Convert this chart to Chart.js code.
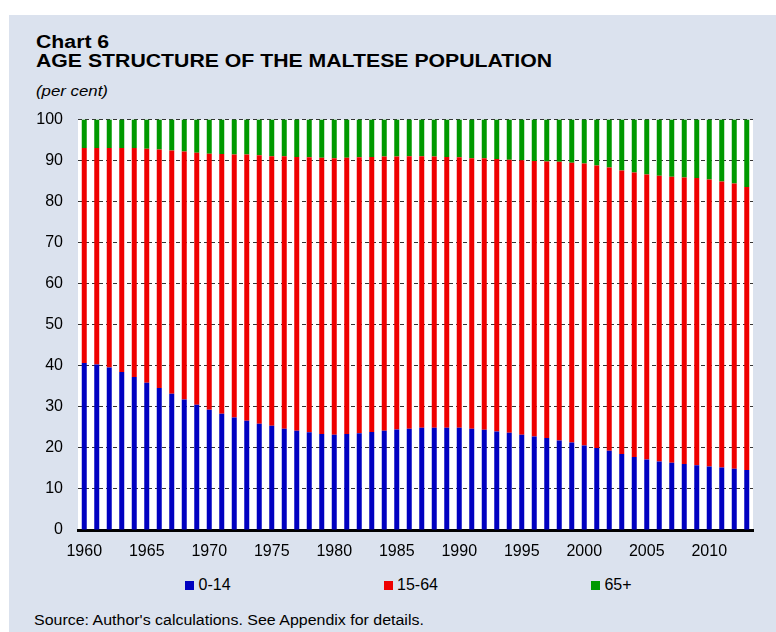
<!DOCTYPE html>
<html>
<head>
<meta charset="utf-8">
<script src="https://cdn.jsdelivr.net/npm/chart.js@4/dist/chart.umd.min.js"></script>
<style>
  body { margin: 0; background: #fff; width: 776px; height: 632px; overflow: hidden; position: relative;
         font-family: 'Liberation Sans', Arial, sans-serif; color: #000; }
  #panel { position: absolute; left: 9px; top: 15px; width: 767px; height: 617px; background: #dbe2ee; }
  .txt { position: absolute; left: 36px; white-space: nowrap; transform-origin: left center; }
  .t1 { font-size: 18px; line-height: 20px; font-weight: bold; transform: scaleX(1.18); }
  #sub { top: 82px; font-size: 15px; line-height: 17px; font-style: italic; transform: scaleX(1.12); }
  #source { left: 34px; top: 612px; font-size: 14px; line-height: 16px; transform: scaleX(1.14); }
  #chartbox { position: absolute; left: 0; top: 95px; width: 776px; height: 475px; }
  #legend { position: absolute; left: 185px; top: 576px; display: flex; gap: 153px; font-size: 16px; line-height: 18px; }
  #legend div { display: flex; align-items: center; }
  #legend span.box { display: inline-block; width: 9px; height: 9px; margin-right: 4.5px; }
</style>
</head>
<body>
<div id="panel"></div>
<div class="txt t1" style="top:32px">Chart 6</div>
<div class="txt t1" style="top:51px">AGE STRUCTURE OF THE MALTESE POPULATION</div>
<div class="txt" id="sub">(per cent)</div>
<div id="chartbox"><canvas id="myChart" width="776" height="475"></canvas></div>
<div id="legend"></div>
<div class="txt" id="source">Source: Author's calculations. See Appendix for details.</div>
<script>
var years = ['1960','1961','1962','1963','1964','1965','1966','1967','1968','1969',
             '1970','1971','1972','1973','1974','1975','1976','1977','1978','1979',
             '1980','1981','1982','1983','1984','1985','1986','1987','1988','1989',
             '1990','1991','1992','1993','1994','1995','1996','1997','1998','1999',
             '2000','2001','2002','2003','2004','2005','2006','2007','2008','2009',
             '2010','2011','2012','2013'];

// 0-14
var young = [40.7, 40.3, 39.6, 38.5, 37.3, 35.9, 34.6, 33.2, 31.8, 30.5,
             29.3, 28.3, 27.4, 26.6, 25.9, 25.4, 24.7, 24.2, 23.8, 23.4,
             23.2, 23.4, 23.6, 23.9, 24.2, 24.5, 24.7, 24.9, 24.9, 24.9,
             24.9, 24.7, 24.4, 24.0, 23.7, 23.2, 22.8, 22.4, 21.8, 21.3,
             20.6, 20.0, 19.3, 18.5, 17.8, 17.2, 16.7, 16.4, 16.1, 15.8,
             15.5, 15.2, 14.9, 14.6];
// 15-64
var working = [52.4, 52.8, 53.5, 54.6, 55.8, 57.0, 58.1, 59.3, 60.4, 61.4,
               62.4, 63.3, 64.1, 64.9, 65.4, 65.7, 66.4, 66.7, 67.0, 67.3,
               67.4, 67.3, 67.2, 67.0, 66.8, 66.5, 66.4, 66.2, 66.1, 66.0,
               65.9, 65.9, 66.2, 66.4, 66.5, 66.9, 67.1, 67.4, 67.9, 68.2,
               68.7, 68.8, 69.0, 69.1, 69.3, 69.4, 69.6, 69.7, 69.8, 70.0,
               69.9, 69.7, 69.5, 69.0];
// 65+
var old = [6.9, 6.9, 6.9, 6.9, 6.9, 7.1, 7.3, 7.5, 7.8, 8.1,
           8.3, 8.4, 8.5, 8.5, 8.7, 8.9, 8.9, 9.1, 9.2, 9.3,
           9.4, 9.3, 9.2, 9.1, 9.0, 9.0, 8.9, 8.9, 9.0, 9.1,
           9.2, 9.4, 9.4, 9.6, 9.8, 9.9, 10.1, 10.2, 10.3, 10.5,
           10.7, 11.2, 11.7, 12.4, 12.9, 13.4, 13.7, 13.9, 14.1, 14.2,
           14.6, 15.1, 15.6, 16.4];

var seriesNames = ['0-14', '15-64', '65+'];
var seriesColors = ['#0000c0', '#ee0000', '#009900'];

Chart.defaults.font.family = "'Liberation Sans', Arial, sans-serif";
Chart.defaults.color = '#000';

// white plot area
var plotBg = {
    id: 'plotBg',
    beforeDraw: function(chart) {
        var a = chart.chartArea, c = chart.ctx;
        c.save();
        c.fillStyle = '#fff';
        c.fillRect(a.left, a.top, a.right - a.left, a.bottom - a.top);
        c.restore();
    }
};

var ctx = document.getElementById('myChart');
var myChart = new Chart(ctx, {
    type: 'bar',
    data: {
        labels: years,
        datasets: [
            { label: seriesNames[0], data: young, backgroundColor: seriesColors[0] },
            { label: seriesNames[1], data: working, backgroundColor: seriesColors[1] },
            { label: seriesNames[2], data: old, backgroundColor: seriesColors[2] }
        ]
    },
    options: {
        responsive: false,
        devicePixelRatio: 1,
        animation: false,
        layout: { padding: { left: 30, right: 23, top: 14, bottom: 0 } },
        datasets: { bar: { categoryPercentage: 1, barPercentage: 0.4, borderWidth: 0 } },
        plugins: { legend: { display: false }, tooltip: { enabled: false } },
        scales: {
            x: {
                stacked: true,
                grid: { display: false, drawTicks: false },
                border: { display: true, color: '#000', width: 3 },
                ticks: {
                    autoSkip: false, maxRotation: 0, padding: 12,
                    font: { size: 16 },
                    callback: function(v, i) { return i % 5 === 0 ? years[i] : ''; }
                },
                afterFit: function(s) { s.height = 40; }
            },
            y: {
                stacked: true,
                min: 0, max: 100,
                grid: { color: '#333', lineWidth: 1, drawTicks: false },
                border: { display: false, dash: [4, 3] },
                ticks: { stepSize: 10, padding: 15, font: { size: 16 } },
                afterFit: function(s) { s.width = 48; }
            }
        }
    },
    plugins: [plotBg]
});

// legend built from the chart datasets
var leg = document.getElementById('legend');
myChart.data.datasets.forEach(function(ds) {
    var item = document.createElement('div');
    item.innerHTML = '<span class="box" style="background:' + ds.backgroundColor + '"></span>' + ds.label;
    leg.appendChild(item);
});
</script>
</body>
</html>
